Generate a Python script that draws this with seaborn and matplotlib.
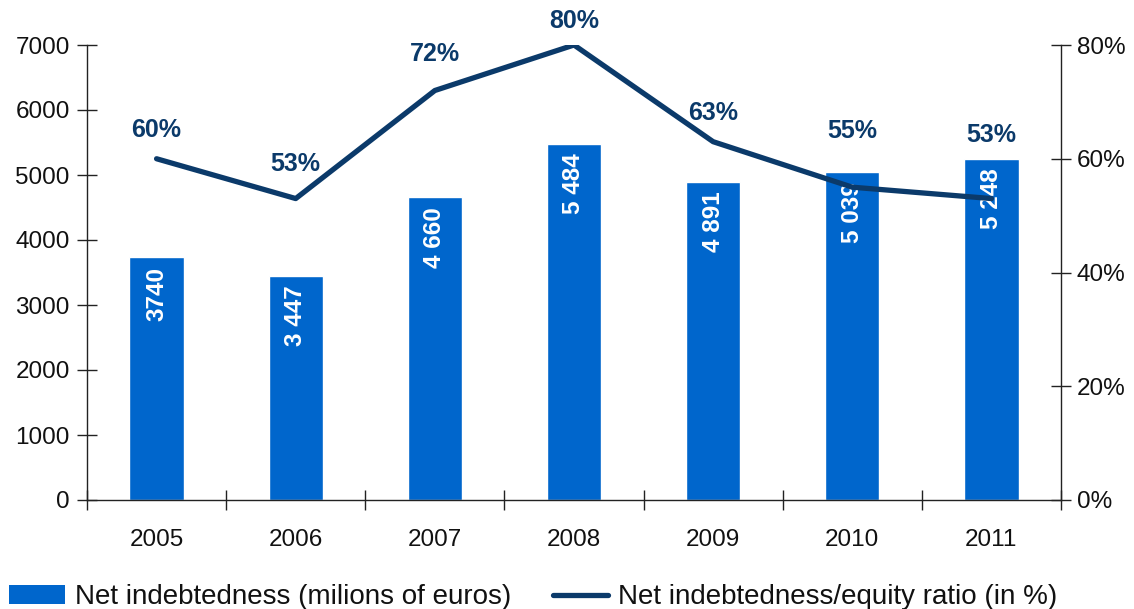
import matplotlib
matplotlib.use("Agg")
import matplotlib.pyplot as plt
import seaborn as sns
import numpy as np
import pandas as pd
from matplotlib.patches import Patch
from matplotlib.lines import Line2D
from matplotlib.ticker import FixedLocator, FuncFormatter

years = ["2005", "2006", "2007", "2008", "2009", "2010", "2011"]
net_debt = [3740, 3447, 4660, 5484, 4891, 5039, 5248]
debt_labels = ["3740", "3 447", "4 660", "5 484", "4 891", "5 039", "5 248"]
ratio = [60, 53, 72, 80, 63, 55, 53]
left_ticks = [0, 1000, 2000, 3000, 4000, 5000, 6000, 7000]
right_ticks = [0, 20, 40, 60, 80]

BAR_COLOR = "#0066CC"
LINE_COLOR = "#0B3A6A"

sns.set_theme(style="white")
plt.rcParams["font.family"] = ["Liberation Sans", "DejaVu Sans"]

df = pd.DataFrame({"year": years, "debt": net_debt, "ratio": ratio})

fig = plt.figure(figsize=(11.34, 6.09), dpi=100)
ax = fig.add_axes([87 / 1134, 109 / 609, (1061 - 87) / 1134, (500 - 45) / 609])

sns.barplot(data=df, x="year", y="debt", color=BAR_COLOR, width=0.39,
            saturation=1, ax=ax, zorder=2)
ax.set_xlim(-0.5, len(years) - 0.5)
ax.set_ylim(0, 7000)
ax.yaxis.set_major_locator(FixedLocator(left_ticks))
ax.set_xlabel("")
ax.set_ylabel("")

# Bar value labels, rotated, inside the top of each bar
for i, (v, lab) in enumerate(zip(net_debt, debt_labels)):
    ax.annotate(lab, (i, v), xytext=(0, -7), textcoords="offset points",
                rotation=90, ha="center", va="top", color="white",
                fontsize=17.5, fontweight="bold", zorder=5)

ax2 = ax.twinx()
sns.lineplot(x=np.arange(len(years)), y=ratio, color=LINE_COLOR, linewidth=3.8,
             ax=ax2, zorder=3)
ax2.set_ylim(0, 80)
ax2.yaxis.set_major_locator(FixedLocator(right_ticks))
ax2.yaxis.set_major_formatter(FuncFormatter(lambda v, _: f"{v:.0f}%"))
ax2.set_xlim(-0.5, len(years) - 0.5)

# Ratio labels above the line
label_lift = [21, 25, 26, 17.5, 21, 40.5, 46]
for i, (r, dy) in enumerate(zip(ratio, label_lift)):
    ax2.annotate(f"{r}%", (i, r), xytext=(0, dy), textcoords="offset points",
                 ha="center", va="center", color=LINE_COLOR,
                 fontsize=18, fontweight="bold", zorder=6)

# Axis styling
for a in (ax, ax2):
    for s in a.spines.values():
        s.set_color("#222222")
        s.set_linewidth(1.0)
    a.spines["top"].set_visible(False)
ax.spines["right"].set_visible(False)
ax2.spines["left"].set_visible(False)
ax2.spines["bottom"].set_visible(False)

ax.tick_params(axis="y", which="major", direction="inout", length=15, width=1,
               color="#222222", labelsize=17.5, pad=5, left=True)
ax2.tick_params(axis="y", which="major", direction="inout", length=15, width=1,
                color="#222222", labelsize=17.5, pad=4, right=True)

# x ticks sit between categories; labels at the centres
ax.set_xticks(np.arange(len(years)))
ax.set_xticklabels(years)
ax.set_xticks(np.arange(len(years) + 1) - 0.5, minor=True)
ax.tick_params(axis="x", which="major", length=0, labelsize=17.5, pad=21)
ax.tick_params(axis="x", which="minor", direction="inout", length=14, width=1,
               color="#222222", bottom=True)
ax2.tick_params(axis="x", which="both", bottom=False, top=False, labelbottom=False)
for t in ax.get_yticklabels() + ax.get_xticklabels() + ax2.get_yticklabels():
    t.set_color("#111111")

handles = [
    Patch(facecolor=BAR_COLOR, edgecolor="none"),
    Line2D([0], [0], color=LINE_COLOR, linewidth=3.8),
]
labels = ["Net indebtedness (milions of euros)", "Net indebtedness/equity ratio (in %)"]
leg = fig.legend(handles, labels, loc="lower left", bbox_to_anchor=(-0.004, -0.025), ncol=2,
                 frameon=False, fontsize=20, handlelength=2.0, handleheight=0.65,
                 handletextpad=0.36, columnspacing=1.5, borderaxespad=0.2,
                 borderpad=0.3)
for t in leg.get_texts():
    t.set_color("#111111")

fig.savefig("out.png", dpi=100)
